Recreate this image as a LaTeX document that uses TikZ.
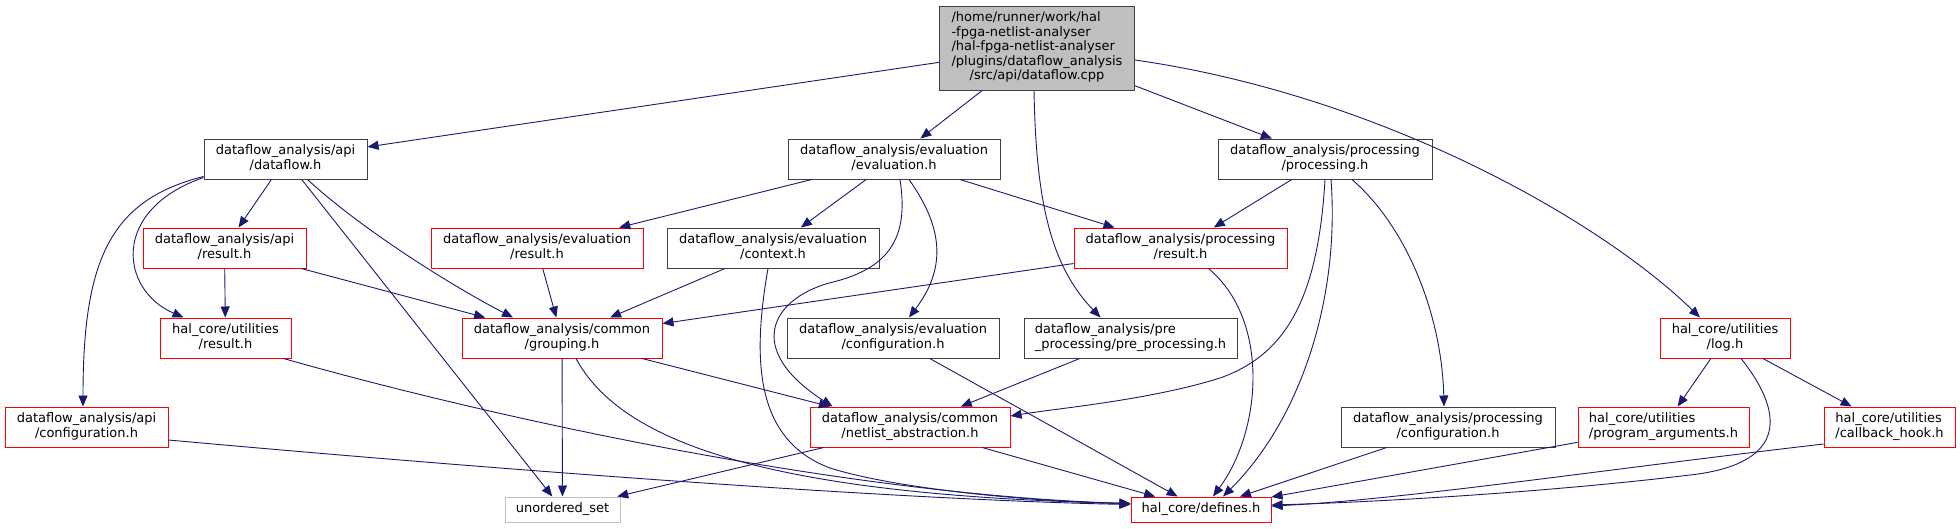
\documentclass[tikz,border=0pt]{standalone}
\usepackage{fontspec}
\setmainfont{DejaVu Sans}
\usepackage{xcolor}
\definecolor{edgeBlue}{RGB}{25, 25, 112}
\definecolor{boxDark}{RGB}{64, 64, 64}
\definecolor{boxGrey}{RGB}{191, 191, 191}
\definecolor{boxRed}{RGB}{255, 0, 0}
\usepackage{tikz}
\usetikzlibrary{arrows.meta}

% two-line doxygen label: upper lines flush left, last line centred
\newcommand{\dlabel}[2]{\begin{tabular}{@{}l@{}}#1\\\multicolumn{1}{@{}c@{}}{#2}\end{tabular}}

\begin{document}
\begin{tikzpicture}[
    x=1pt, y=-1pt,
    fileBox/.style={
        rectangle,
        draw=boxDark, line width=1pt,
        fill=white, text=black,
        font=\fontsize{13}{14.5}\selectfont,
        inner sep=0pt, minimum height=40pt
    },
    redFile/.style={fileBox, draw=boxRed},
    extFile/.style={fileBox, draw=boxGrey, minimum height=25pt},
    rootFile/.style={fileBox, fill=boxGrey, minimum height=84pt},
    inclArrow/.style={
        -{Triangle[length=11pt, width=9pt]}, line width=0.9pt, draw=edgeBlue
    }
]
    \useasboundingbox (0, 0) rectangle (1960, 528);

    % Root source file
    \node[rootFile, minimum width=195pt] (rootCpp) at (1037, 48) {
        \dlabel{/home/runner/work/hal\\-fpga-netlist-analyser\\/hal-fpga-netlist-analyser\\/plugins/dataflow\_analysis}{/src/api/dataflow.cpp}
    };

    % First level headers
    \node[fileBox, minimum width=163pt] (dataflowH) at (285.5, 159) {\dlabel{dataflow\_analysis/api}{/dataflow.h}};
    \node[fileBox, minimum width=212pt] (evaluationH) at (894, 159) {\dlabel{dataflow\_analysis/evaluation}{/evaluation.h}};
    \node[fileBox, minimum width=214pt] (processingH) at (1325, 159) {\dlabel{dataflow\_analysis/processing}{/processing.h}};

    % Result and context headers
    \node[redFile, minimum width=163pt] (apiResult) at (224.5, 248) {\dlabel{dataflow\_analysis/api}{/result.h}};
    \node[redFile, minimum width=212pt] (evalResult) at (537, 248) {\dlabel{dataflow\_analysis/evaluation}{/result.h}};
    \node[fileBox, minimum width=212pt] (contextH) at (773, 248) {\dlabel{dataflow\_analysis/evaluation}{/context.h}};
    \node[redFile, minimum width=213pt] (procResult) at (1180.5, 248) {\dlabel{dataflow\_analysis/processing}{/result.h}};

    % Third row
    \node[redFile, minimum width=131pt] (utilResult) at (225.5, 338) {\dlabel{hal\_core/utilities}{/result.h}};
    \node[redFile, minimum width=200pt] (groupingH) at (562, 338) {\dlabel{dataflow\_analysis/common}{/grouping.h}};
    \node[fileBox, minimum width=212pt] (evalConfig) at (893, 338) {\dlabel{dataflow\_analysis/evaluation}{/configuration.h}};
    \node[fileBox, minimum width=213pt] (preProc) at (1130.5, 338) {\dlabel{dataflow\_analysis/pre}{\_processing/pre\_processing.h}};
    \node[redFile, minimum width=130pt] (logH) at (1725, 338) {\dlabel{hal\_core/utilities}{/log.h}};

    % Fourth row
    \node[redFile, minimum width=163pt] (apiConfig) at (86.5, 427) {\dlabel{dataflow\_analysis/api}{/configuration.h}};
    \node[redFile, minimum width=200pt] (netlistAbs) at (910, 427) {\dlabel{dataflow\_analysis/common}{/netlist\_abstraction.h}};
    \node[fileBox, minimum width=214pt] (procConfig) at (1448, 427) {\dlabel{dataflow\_analysis/processing}{/configuration.h}};
    \node[redFile, minimum width=171pt] (progArgs) at (1663.5, 427) {\dlabel{hal\_core/utilities}{/program\_arguments.h}};
    \node[redFile, minimum width=131pt] (callbackHook) at (1889.5, 427) {\dlabel{hal\_core/utilities}{/callback\_hook.h}};

    % Leaves
    \node[extFile, minimum width=115pt] (unorderedSet) at (562.5, 509.5) {unordered\_set};
    \node[redFile, minimum width=140pt, minimum height=25pt] (definesH) at (1201, 509.5) {hal\_core/defines.h};

    % Includes of the root file
    \draw[inclArrow] (rootCpp) -- (dataflowH);
    \draw[inclArrow] (rootCpp) -- (evaluationH);
    \draw[inclArrow] ([xshift=-3pt]rootCpp.south) .. controls (1036, 200) and (1050, 265) .. ([xshift=-30pt]preProc.north);
    \draw[inclArrow] (rootCpp) -- (processingH);
    \draw[inclArrow] ([yshift=-12pt]rootCpp.east) .. controls (1380, 95) and (1600, 220) .. ([xshift=-25pt]logH.north);

    % dataflow.h
    \draw[inclArrow] (dataflowH) -- (apiResult);
    \draw[inclArrow] ([yshift=2pt]dataflowH.south west) .. controls (110, 210) and (120, 290) .. ([xshift=-42pt]utilResult.north);
    \draw[inclArrow] ([yshift=3pt]dataflowH.south west) .. controls (110, 200) and (83, 260) .. ([xshift=-3.5pt]apiConfig.north);
    \draw[inclArrow] (dataflowH) -- (unorderedSet);
    \draw[inclArrow] ([xshift=22pt]dataflowH.south) .. controls (360, 228) and (450, 285) .. ([xshift=-49pt]groupingH.north);

    % evaluation.h
    \draw[inclArrow] (evaluationH) -- (evalResult);
    \draw[inclArrow] (evaluationH) -- (contextH);
    \draw[inclArrow] ([xshift=6pt]evaluationH.south) .. controls (908, 232) and (895, 268) .. (829, 283)
        .. controls (770, 300) and (745, 350) .. ([xshift=23pt]netlistAbs.north west);
    \draw[inclArrow] ([xshift=15pt]evaluationH.south) .. controls (945, 230) and (945, 270) .. ([xshift=16pt]evalConfig.north);
    \draw[inclArrow] (evaluationH) -- (procResult);

    % processing.h
    \draw[inclArrow] (processingH) -- (procResult);
    \draw[inclArrow] (processingH.south) .. controls (1318, 300) and (1285, 355) .. (1220, 378)
        .. controls (1150, 400) and (1060, 408) .. ([yshift=11pt]netlistAbs.east);
    \draw[inclArrow] ([xshift=6pt]processingH.south) .. controls (1340, 300) and (1300, 420) .. ([xshift=22pt]definesH.north);
    \draw[inclArrow] ([xshift=27pt]processingH.south) .. controls (1410, 230) and (1442, 320) .. ([xshift=-4pt]procConfig.north);

    % second row headers
    \draw[inclArrow] (apiResult) -- (utilResult);
    \draw[inclArrow] (apiResult) -- (groupingH);
    \draw[inclArrow] (evalResult) -- (groupingH);
    \draw[inclArrow] (contextH) -- (groupingH);
    \draw[inclArrow] ([xshift=-5pt]contextH.south) .. controls (752, 360) and (755, 440) .. (830, 468)
        .. controls (900, 490) and (1040, 502) .. ([yshift=6pt]definesH.west);
    \draw[inclArrow] (procResult) -- (groupingH);
    \draw[inclArrow] ([xshift=28pt]procResult.south) .. controls (1270, 320) and (1262, 430) .. ([xshift=12pt]definesH.north);

    % third row headers
    \draw[inclArrow] ([xshift=-8pt]utilResult.south east) .. controls (500, 420) and (850, 495) .. ([yshift=6pt]definesH.west);
    \draw[inclArrow] (groupingH) -- (unorderedSet);
    \draw[inclArrow] (groupingH) -- (netlistAbs);
    \draw[inclArrow] ([xshift=14pt]groupingH.south) .. controls (620, 440) and (760, 495) .. ([yshift=6pt]definesH.west);
    \draw[inclArrow] (evalConfig) -- (definesH);
    \draw[inclArrow] (preProc) -- (netlistAbs);
    \draw[inclArrow] (logH) -- (progArgs);
    \draw[inclArrow] (logH) -- (callbackHook);
    \draw[inclArrow] ([xshift=16pt]logH.south) .. controls (1790, 420) and (1780, 465) .. (1690, 475)
        .. controls (1550, 492) and (1380, 502) .. ([yshift=4.5pt]definesH.east);

    % fourth row headers
    \draw[inclArrow] ([yshift=-13pt]apiConfig.east) .. controls (500, 470) and (900, 500) .. ([yshift=5pt]definesH.west);
    \draw[inclArrow] (netlistAbs) -- (unorderedSet);
    \draw[inclArrow] (netlistAbs) -- (definesH);
    \draw[inclArrow] (procConfig) -- (definesH);
    \draw[inclArrow] (progArgs) -- (definesH);
    \draw[inclArrow] ([yshift=-17pt]callbackHook.west) .. controls (1600, 470) and (1400, 500) .. ([yshift=3.5pt]definesH.east);

\end{tikzpicture}
\end{document}
